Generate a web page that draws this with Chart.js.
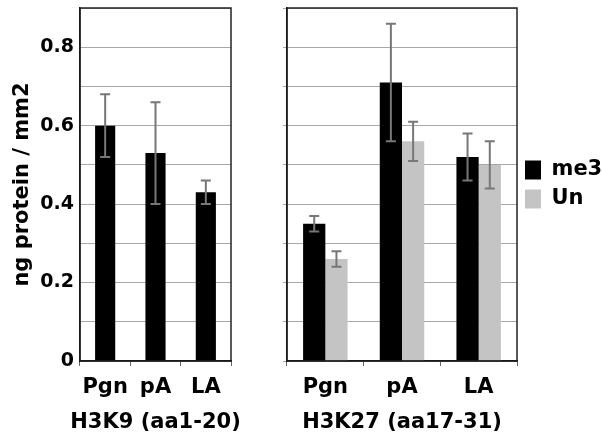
<!DOCTYPE html>
<html>
<head>
<meta charset="utf-8">
<script src="https://cdn.jsdelivr.net/npm/chart.js@4"></script>
<style>
  html, body { margin: 0; padding: 0; background: #fff; overflow: hidden; }
  #wrap { position: relative; width: 602px; height: 446px; overflow: hidden; }
  #left { position: absolute; left: 0; top: 0; width: 250px; height: 446px; }
  #right { position: absolute; left: 250px; top: 0; width: 362px; height: 446px; }
</style>
</head>
<body>
<div id="wrap">
  <div id="left"><canvas id="k9"></canvas></div>
  <div id="right"><canvas id="k27"></canvas></div>
</div>
<script>
const groups = ['Pgn', 'pA', 'LA']

// H3K9 (aa1-20), me3 only
const k9Me3 = [0.60, 0.53, 0.43]
const k9Me3Lo = [0.52, 0.40, 0.40]
const k9Me3Hi = [0.68, 0.66, 0.46]

// H3K27 (aa17-31)
const k27Me3 = [0.35, 0.71, 0.52]
const k27Me3Lo = [0.33, 0.56, 0.46]
const k27Me3Hi = [0.37, 0.86, 0.58]
const k27Un = [0.26, 0.56, 0.50]
const k27UnLo = [0.24, 0.51, 0.44]
const k27UnHi = [0.28, 0.61, 0.56]

const yMax = 0.9
const yStep = 0.1

Chart.defaults.font.family = "'DejaVu Sans', sans-serif"
Chart.defaults.font.weight = 'bold'
Chart.defaults.color = '#000'

const bold = (size) => ({ size: size, weight: 'bold' })

// box round the plot area
const framePlugin = {
  id: 'frame',
  afterDatasetsDraw(chart) {
    const a = chart.chartArea
    const ctx = chart.ctx
    ctx.save()
    ctx.strokeStyle = '#222'
    ctx.lineWidth = 1.5
    ctx.strokeRect(a.left, a.top, a.right - a.left, a.bottom - a.top)
    ctx.restore()
  },
}

// gray error bars from ds.lo / ds.hi
const errorBars = {
  id: 'errorBars',
  afterDatasetsDraw(chart) {
    const ctx = chart.ctx
    const y = chart.scales.y
    chart.data.datasets.forEach((ds, i) => {
      chart.getDatasetMeta(i).data.forEach((bar, j) => {
        const top = y.getPixelForValue(ds.hi[j])
        const bot = y.getPixelForValue(ds.lo[j])
        ctx.save()
        ctx.strokeStyle = '#777'
        ctx.lineWidth = 2
        ctx.beginPath()
        ctx.moveTo(bar.x, top); ctx.lineTo(bar.x, bot)
        ctx.moveTo(bar.x - 5, top); ctx.lineTo(bar.x + 5, top)
        ctx.moveTo(bar.x - 5, bot); ctx.lineTo(bar.x + 5, bot)
        ctx.stroke()
        ctx.restore()
      })
    })
  },
}

// panel caption under the category labels (scale titles get squeezed to the axis width)
const panelTitle = {
  id: 'panelTitle',
  afterDraw(chart, args, opts) {
    const a = chart.chartArea
    const ctx = chart.ctx
    ctx.save()
    ctx.font = "bold 21px 'DejaVu Sans'"
    ctx.fillStyle = '#000'
    ctx.textAlign = 'center'
    ctx.textBaseline = 'middle'
    ctx.fillText(opts.text, (a.left + a.right) / 2, a.bottom + 62)
    ctx.restore()
  },
}

const evenLabel = (v) => {
  const n = Math.round(v * 10)
  if (n % 2 !== 0) return ''
  return n === 0 ? '0' : (n / 10).toFixed(1)
}

const xScale = () => ({
  grid: { display: true, drawOnChartArea: false, offset: true, tickLength: 5, color: '#666' },
  border: { color: '#000', width: 1.5 },
  ticks: { font: bold(21), color: '#000', padding: 9, autoSkip: false, maxRotation: 0, minRotation: 0 },
  afterFit: (s) => { s.height = 85; s.paddingLeft = 0; s.paddingRight = 0 },
})

const k9Chart = new Chart(document.getElementById('k9'), {
  type: 'bar',
  data: {
    labels: groups,
    datasets: [
      {
        label: 'me3',
        data: k9Me3,
        lo: k9Me3Lo,
        hi: k9Me3Hi,
        backgroundColor: '#000',
        borderWidth: 0,
        barPercentage: 0.4,
        categoryPercentage: 1,
      },
    ],
  },
  options: {
    responsive: true,
    maintainAspectRatio: false,
    animation: false,
    layout: { padding: { top: 8, right: 19, bottom: 0, left: 0 } },
    plugins: {
      legend: { display: false },
      tooltip: { enabled: false },
      panelTitle: { text: 'H3K9 (aa1-20)' },
    },
    scales: {
      x: xScale(),
      y: {
        min: 0,
        max: yMax,
        ticks: { stepSize: yStep, callback: evenLabel, font: bold(19), color: '#000', padding: 6 },
        grid: { color: '#a8a8a8', drawTicks: false },
        border: { color: '#000', width: 1.5 },
        title: { display: true, text: 'ng protein / mm2', font: bold(21), color: '#000', padding: { top: 10, bottom: 0 } },
        afterFit: (s) => { s.width = 80; s.paddingTop = 0; s.paddingBottom = 0 },
      },
    },
  },
  plugins: [framePlugin, errorBars, panelTitle],
})

const k27Chart = new Chart(document.getElementById('k27'), {
  type: 'bar',
  data: {
    labels: groups,
    datasets: [
      {
        label: 'me3',
        data: k27Me3,
        lo: k27Me3Lo,
        hi: k27Me3Hi,
        backgroundColor: '#000',
        borderWidth: 0,
        barPercentage: 1,
        categoryPercentage: 0.58,
      },
      {
        label: 'Un',
        data: k27Un,
        lo: k27UnLo,
        hi: k27UnHi,
        backgroundColor: '#c4c4c4',
        borderWidth: 0,
        barPercentage: 1,
        categoryPercentage: 0.58,
      },
    ],
  },
  options: {
    responsive: true,
    maintainAspectRatio: false,
    animation: false,
    layout: { padding: { top: 8, right: 6, bottom: 0, left: 0 } },
    plugins: {
      tooltip: { enabled: false },
      panelTitle: { text: 'H3K27 (aa17-31)' },
      legend: {
        position: 'right',
        align: 'center',
        fullSize: false,
        labels: { boxWidth: 16, boxHeight: 19, padding: 8, font: bold(21), color: '#000' },
      },
    },
    scales: {
      x: xScale(),
      y: {
        min: 0,
        max: yMax,
        ticks: { stepSize: yStep, display: false },
        grid: { color: '#a8a8a8', drawTicks: true, tickLength: 4 },
        border: { color: '#000', width: 1.5 },
        afterFit: (s) => { s.width = 37; s.paddingTop = 0; s.paddingBottom = 0 },
      },
    },
  },
  plugins: [framePlugin, errorBars, panelTitle],
})
</script>
</body>
</html>
